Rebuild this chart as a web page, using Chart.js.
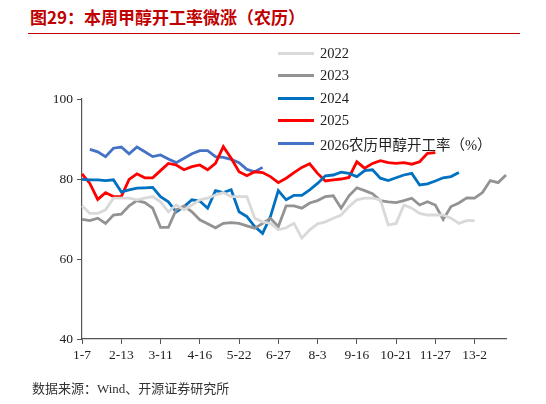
<!DOCTYPE html>
<html><head><meta charset="utf-8">
<script src="https://cdn.jsdelivr.net/npm/chart.js@4"></script>
<style>
body{margin:0;width:546px;height:404px;position:relative;background:#fff;font-family:"Liberation Serif","Noto Sans CJK SC",serif;overflow:hidden}
#title{position:absolute;left:30px;top:4px;font-size:17px;font-weight:bold;color:#C00000;font-family:"Noto Sans CJK SC",sans-serif}
#rule{position:absolute;left:28px;top:33px;width:492px;height:1px;background:#C00000}
#src{position:absolute;left:32px;top:378px;font-size:13px;color:#333;font-family:"Liberation Serif","Noto Sans CJK SC",serif}
#legend{position:absolute;left:278px;top:42px;font-size:14.5px;color:#222}
#legend div{height:22.5px;display:flex;align-items:center}
#legend span.l{display:inline-block;width:36px;height:3px;margin-right:6px}
canvas{position:absolute;left:0;top:0}
</style></head><body>
<div id="title">图29：本周甲醇开工率微涨（农历）</div>
<div id="rule"></div>
<div style="position:absolute;left:0;top:0;width:546px;height:404px"><canvas id="c" width="546" height="404"></canvas></div>
<div id="legend"></div>
<div id="src">数据来源：Wind、开源证券研究所</div>
<script>
const tickLabels=["1-7","2-13","3-11","4-16","5-22","6-27","8-3","9-16","10-21","11-27","13-2"];
const categories=[];for(let i=0;i<55;i++)categories.push(i%5===0?tickLabels[i/5]:"");
const s2022=[73.3,71.4,71.4,72.3,75.2,75.2,75.2,74.8,75.2,75.6,74.3,71.8,73.5,72.3,73.5,74.8,75.2,76,76.6,75.6,75.6,75.6,70.2,69.3,68.9,67.3,67.8,68.9,65.2,67.3,68.8,69.3,70.2,71,73.1,74.8,75.2,75.2,74.8,68.5,68.9,73.5,72.7,71.4,71,71,71,70.2,68.9,69.6,69.6];
const s2023=[69.9,69.6,70.2,68.9,71,71.2,73.3,74.6,74.1,72.7,67.9,67.9,72.3,73.3,71.8,69.8,68.8,67.8,68.9,69.1,68.9,68.3,67.7,68.9,70.2,68.1,73.3,73.3,72.7,74,74.6,75.6,75.8,72.7,75.8,77.8,77.1,76.3,74.6,74.3,74.1,74.6,75.2,73.5,74.3,73.5,69.9,73.1,74,75.3,75.2,76.6,79.6,79.1,81];
const s2024=[79.9,79.8,79.8,79.6,79.8,76.8,77.3,77.7,77.8,77.9,75.6,74.3,71.8,73.1,74.8,74.5,72.7,77.1,76.6,77.3,71.8,70.6,68.1,66.4,70.6,77.1,74.8,75.9,75.9,77.3,78.9,80.8,81,81.7,81.4,80.6,82.1,82.3,80.2,79.6,80.3,81,81.4,78.5,78.8,79.5,80.3,80.6,81.6];
const s2025=[81.3,78.9,74.9,76.6,75.6,75.6,79.9,81.3,80.3,80.3,82.1,83.9,83.5,82.3,83.1,83.5,82.3,83.9,88.1,85.2,81.8,80.8,81.8,81.6,80.6,79.1,80.2,81.6,82.9,83.8,81.4,79.5,79.8,80,80.4,84.3,82.7,83.9,84.6,84.1,83.9,84.1,83.7,84.3,86.4,86.6];
const s2026=[null,87.4,86.8,85.6,87.7,88,86.3,88,86.8,85.6,86,85,84.1,85.2,86.3,87.1,87.1,85.6,85.4,84.9,84.1,82.4,81.8,82.9];
const names=["2022","2023","2024","2025","2026农历甲醇开工率（%）"];
const colors=["#D9D9D9","#939393","#0070C0","#FF0000","#4472C4"];
const all=[s2022,s2023,s2024,s2025,s2026];
document.getElementById('legend').innerHTML=names.map((n,i)=>`<div><span class="l" style="background:${colors[i]}"></span>${n}</div>`).join('');
new Chart(document.getElementById('c'),{type:'line',
data:{labels:categories,datasets:all.map((d,i)=>({label:names[i],data:d,borderColor:colors[i],borderWidth:2.8,pointRadius:0,tension:0,fill:false,spanGaps:false}))},
options:{responsive:false,animation:false,layout:{padding:{left:0,right:40,top:99,bottom:34}},
plugins:{legend:{display:false},tooltip:{enabled:false}},
scales:{
x:{offset:false,grid:{drawOnChartArea:false,color:(c)=>(c.index%5===0?'#555':'rgba(0,0,0,0)'),tickLength:5},border:{color:'#555',width:1.2},
 ticks:{autoSkip:false,maxRotation:0,color:'#222',font:{family:'Liberation Serif',size:13.5},padding:3},afterFit:(s)=>{s.height=31;}},
y:{min:40,max:100,grid:{drawOnChartArea:false,tickLength:5,color:'#555'},border:{color:'#555',width:1.2},
 ticks:{stepSize:20,color:'#222',font:{family:'Liberation Serif',size:13.5},padding:4},afterFit:(s)=>{s.width=82;}}}}});
</script></body></html>
